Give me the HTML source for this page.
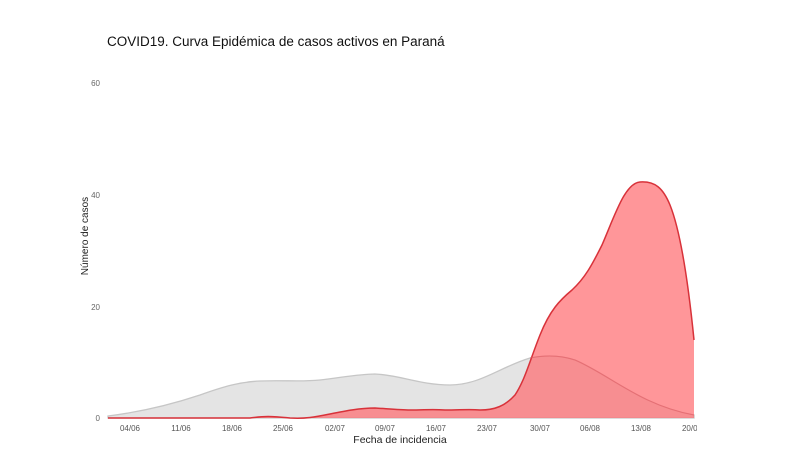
<!DOCTYPE html>
<html><head><meta charset="utf-8"><style>
html,body{margin:0;padding:0;background:#fff;}
svg{display:block;font-family:"Liberation Sans",sans-serif;}
</style></head><body>
<svg width="800" height="450" viewBox="0 0 800 450">
<rect width="800" height="450" fill="#fff"/>
<text x="107" y="46" font-size="13.5" fill="#111">COVID19. Curva Epidémica de casos activos en Paraná</text>
<g font-size="8" fill="#666" text-anchor="end">
<text x="100" y="86">60</text>
<text x="100" y="310">20</text>
<text x="100" y="198">40</text>
<text x="100" y="421">0</text>
</g>
<text transform="translate(88,236) rotate(-90)" font-size="10" fill="#222" text-anchor="middle">Número de casos</text>
<path d="M108,416 C140,412 170,405 200,395 C225,386 240,382 260,381 C285,380 300,382 320,380 C345,377 360,374 375,374 C400,375 420,385 450,385 C480,385 500,367 530,358 C545,355 560,355 575,360 C610,375 640,405 694,415 L694,418 L108,418 Z" fill="#e4e4e4" stroke="#c6c6c6" stroke-width="1.3"/>
<path d="M108,418 L250,418 C265,416 270,416 290,418 C305,419 315,417 330,414 C345,411 360,408 375,408 C390,409 400,410 410,410 C425,410 432,409 445,410 C460,410 470,409 480,410 C495,410 505,406 515,395 C525,380 530,360 540,335 C550,310 560,300 572,290 C585,278 592,265 602,245 C615,215 625,183 640,182 C655,181 663,188 670,205 C680,230 688,280 694,340 L694,418 Z" fill="#ff6a6e" fill-opacity="0.7"/>
<path d="M108,418 L250,418 C265,416 270,416 290,418 C305,419 315,417 330,414 C345,411 360,408 375,408 C390,409 400,410 410,410 C425,410 432,409 445,410 C460,410 470,409 480,410 C495,410 505,406 515,395 C525,380 530,360 540,335 C550,310 560,300 572,290 C585,278 592,265 602,245 C615,215 625,183 640,182 C655,181 663,188 670,205 C680,230 688,280 694,340" fill="none" stroke="#d8323a" stroke-width="1.5"/>
<path d="M530,358 C545,355 560,355 575,360 C610,375 640,405 694,415" fill="none" stroke="#e06068" stroke-width="1" opacity="0.6"/>
<g font-size="8" fill="#555" text-anchor="middle">
<text x="130" y="431">04/06</text>
<text x="181" y="431">11/06</text>
<text x="232" y="431">18/06</text>
<text x="283" y="431">25/06</text>
<text x="335" y="431">02/07</text>
<text x="385" y="431">09/07</text>
<text x="436" y="431">16/07</text>
<text x="487" y="431">23/07</text>
<text x="540" y="431">30/07</text>
<text x="590" y="431">06/08</text>
<text x="641" y="431">13/08</text>
<text x="692" y="431">20/08</text>
</g>
<rect x="697" y="420" width="103" height="20" fill="#fff"/>
<text x="400" y="443" font-size="10.5" fill="#222" text-anchor="middle">Fecha de incidencia</text>
</svg>
</body></html>
